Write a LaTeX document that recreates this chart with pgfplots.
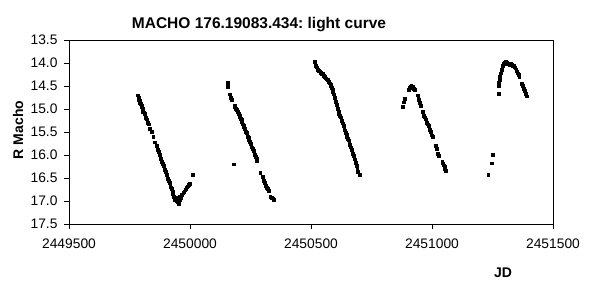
\documentclass[border=0pt]{standalone}
\usepackage{fontspec}
\setmainfont{Liberation Sans}
\usepackage{pgfplots}
\pgfplotsset{compat=1.18}
\usepackage{pgfplotstable}
\frenchspacing
% x column: JD - 2449500
\pgfplotstableread{
x y
284 14.70
287 14.75
289 14.79
291 14.82
293 14.86
296 14.88
299 14.93
301 14.96
304 15.00
306 15.05
309 15.07
312 15.10
315 15.15
317 15.19
320 15.22
323 15.26
326 15.30
329 15.33
334 15.42
341 15.50
348 15.60
355 15.72
361 15.80
366 15.88
370 15.93
374 15.99
377 16.04
380 16.08
384 16.14
387 16.19
390 16.23
393 16.27
397 16.32
400 16.37
403 16.42
406 16.46
409 16.51
412 16.55
415 16.60
418 16.65
421 16.70
424 16.74
427 16.80
430 16.85
433 16.90
436 16.93
438 16.97
441 16.92
443 17.00
446 16.96
448 17.02
451 16.95
453 17.05
456 16.98
459 16.90
462 16.94
465 16.85
468 16.87
472 16.82
476 16.80
480 16.76
484 16.74
488 16.70
492 16.68
496 16.64
500 16.62
511 16.43
656 14.43
657 14.51
664 14.68
666 14.72
668 14.75
671 14.80
679 16.20
684 14.92
686 14.96
688 15.00
692 15.02
695 15.04
698 15.06
702 15.10
705 15.14
707 15.18
709 15.21
712 15.24
714 15.27
716 15.30
719 15.33
721 15.36
723 15.39
726 15.42
728 15.45
730 15.49
733 15.52
736 15.56
739 15.60
741 15.63
744 15.67
747 15.71
750 15.75
753 15.79
756 15.83
759 15.87
762 15.91
765 15.95
768 15.99
771 16.04
774 16.08
777 16.12
790 16.38
800 16.48
804 16.55
808 16.60
812 16.66
816 16.71
820 16.74
824 16.78
831 16.90
836 16.92
841 16.94
847 16.97
1014 13.97
1017 14.02
1020 14.06
1023 14.09
1026 14.12
1029 14.14
1032 14.16
1035 14.18
1038 14.20
1041 14.21
1044 14.23
1047 14.24
1050 14.26
1053 14.27
1056 14.29
1059 14.31
1062 14.33
1065 14.35
1068 14.36
1071 14.38
1074 14.41
1077 14.44
1080 14.46
1083 14.49
1086 14.53
1089 14.57
1091 14.62
1094 14.68
1099 14.75
1103 14.84
1106 14.90
1110 15.00
1113 15.06
1116 15.10
1119 15.14
1122 15.18
1125 15.22
1128 15.26
1131 15.31
1134 15.36
1137 15.41
1140 15.46
1143 15.51
1146 15.55
1149 15.60
1152 15.64
1155 15.68
1158 15.73
1161 15.78
1164 15.83
1167 15.88
1170 15.92
1173 15.97
1176 16.02
1180 16.09
1184 16.16
1188 16.24
1191 16.30
1194 16.37
1200 16.42
1379 14.95
1383 14.85
1386 14.78
1405 14.58
1408 14.54
1411 14.52
1414 14.50
1417 14.51
1420 14.52
1424 14.55
1428 14.58
1440 14.70
1443 14.75
1446 14.80
1450 14.86
1454 14.92
1461 15.05
1464 15.10
1467 15.14
1470 15.18
1473 15.22
1476 15.26
1479 15.30
1482 15.33
1485 15.37
1488 15.41
1491 15.45
1494 15.49
1497 15.53
1500 15.57
1503 15.61
1516 15.80
1519 15.86
1524 15.97
1526 16.02
1542 16.14
1545 16.18
1548 16.22
1551 16.26
1554 16.30
1558 16.34
1732 16.43
1746 16.18
1751 16.00
1774 14.66
1776 14.50
1777 14.42
1779 14.36
1781 14.30
1784 14.22
1787 14.15
1790 14.10
1793 14.05
1796 14.02
1800 14.00
1804 13.98
1808 14.00
1812 14.02
1816 14.01
1820 14.03
1824 14.02
1828 14.04
1832 14.05
1836 14.06
1840 14.08
1844 14.11
1848 14.14
1851 14.18
1854 14.22
1857 14.26
1860 14.30
1872 14.45
1875 14.50
1878 14.55
1882 14.60
1886 14.66
1890 14.72
}\lc
\begin{document}
\begin{tikzpicture}[x=1pt,y=1pt]
\begin{axis}[
  at={(69pt,73pt)}, anchor=south west,
  scale only axis, width=484pt, height=184pt,
  xmin=0, xmax=2000, ymin=13.5, ymax=17.5, y dir=reverse,
  xtick={0,500,1000,1500,2000},
  xticklabels={2449500,2450000,2450500,2451000,2451500},
  ytick={13.5,14,14.5,15,15.5,16,16.5,17,17.5},
  yticklabel style={xshift=-3pt, /pgf/number format/fixed, /pgf/number format/fixed zerofill, /pgf/number format/precision=1, /pgf/number format/assume math mode=true},
  tick label style={font=\fontsize{13.8}{15}\selectfont, black},
  xticklabel style={yshift=-6pt},
  tick align=outside, tick pos=left,
  major tick length=5pt,
  axis line style={line width=0.9pt, black},
  every tick/.style={line width=0.9pt, black},
  clip=false,
]
\addplot[only marks, mark=square*, mark size=1.4pt, black] table[x=x,y=y]{\lc};
\end{axis}
\node[font=\bfseries\fontsize{15.5}{17}\selectfont] at (259pt,272pt) {MACHO 176.19083.434: light curve};
\node[font=\bfseries\fontsize{14}{16}\selectfont, rotate=90] at (18pt,167pt) {R Macho};
\node[font=\bfseries\fontsize{14}{16}\selectfont] at (503pt,24pt) {JD};
\pgfresetboundingbox
\path[use as bounding box] (0,0) rectangle (593pt,297pt);
\end{tikzpicture}
\end{document}
